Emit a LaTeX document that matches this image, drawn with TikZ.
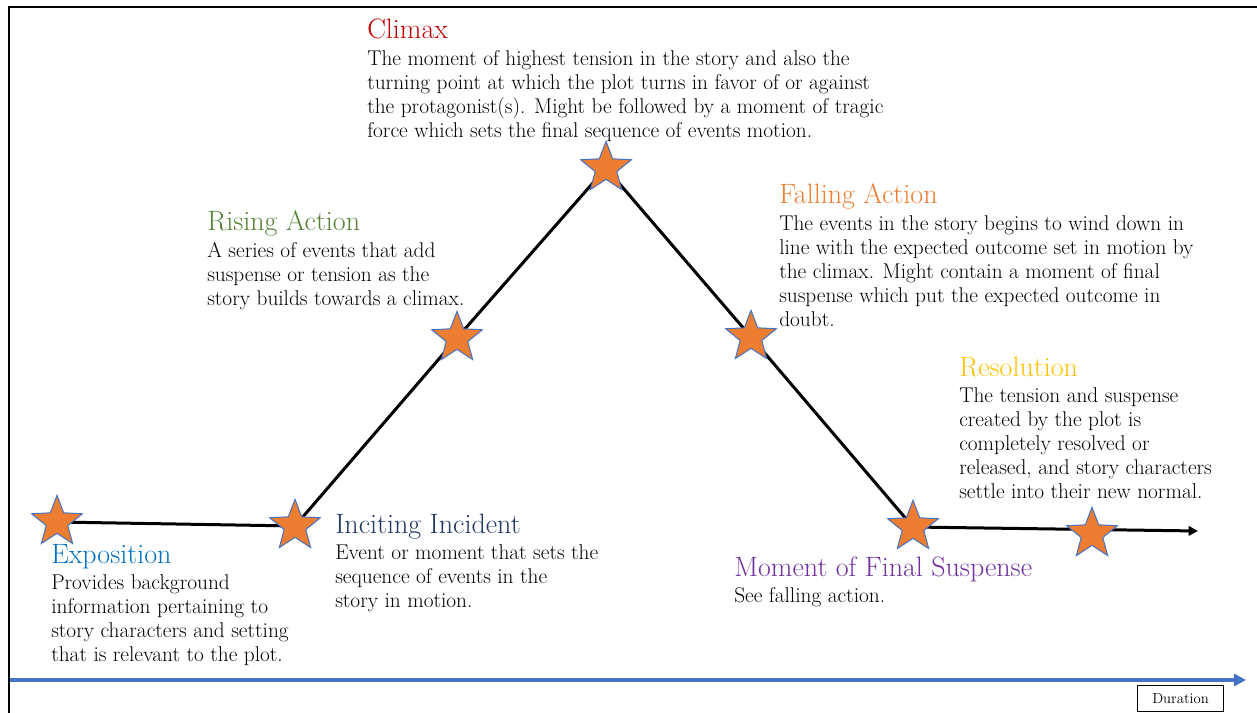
\documentclass[tikz,border=0pt]{standalone}
\usetikzlibrary{shapes.geometric, arrows.meta, positioning, backgrounds}
\definecolor{ArcOrange}{HTML}{ED7D31}
\definecolor{ArcEdge}{HTML}{4472C4}
\definecolor{ArcRed}{HTML}{C00000}
\definecolor{ArcGreen}{HTML}{538135}
\definecolor{ArcGold}{HTML}{FFC000}
\definecolor{ArcPurple}{HTML}{7030A0}
\definecolor{ArcBlue}{HTML}{0070C0}
\definecolor{ArcNavy}{HTML}{1F3864}

\begin{document}
\begin{tikzpicture}[x=0.75pt, y=-0.75pt, >=Stealth,
                plotstar/.style={star, star points=5, star point ratio=2.35, draw=ArcEdge, line width=0.75pt, fill=ArcOrange, minimum size=40pt, inner sep=0pt},
                head/.style={anchor=base west, inner sep=0pt, font=\fontsize{21}{25}\selectfont},
                body/.style={inner sep=0pt, align=left, text=black, font=\fontsize{16}{18}\selectfont},
                plotline/.style={line width=2.25pt, line join=round, -{Triangle[length=7pt, width=7pt]}},
                axis/.style={ArcEdge, line width=3pt, -{Triangle[length=9pt, width=9pt]}},
                durbox/.style={draw, line width=0.75pt, minimum width=64pt, minimum height=20pt, inner sep=0pt, font=\fontsize{11}{13}\selectfont}]
                \useasboundingbox (0,0) rectangle (1257,713);
                \draw[line width=1.5pt] (9,713) -- (9,7) -- (1257,7);

                \node[plotstar] (s1) at (57,522) {};
                \node[plotstar] (s2) at (295,526) {};
                \node[plotstar] (s3) at (457,338) {};
                \node[plotstar] (s4) at (606,168) {};
                \node[plotstar] (s5) at (751,337) {};
                \node[plotstar] (s6) at (913,527) {};
                \node[plotstar] (s7) at (1092,534) {};
                \coordinate (plotend) at (1198,531);

                \begin{scope}[on background layer]
                \draw[plotline] (s1.center) -- (s2.center) -- (s3.center) -- (s4.center) -- (s5.center) -- (s6.center) -- (plotend);
                \end{scope}

                \node[head, text=ArcRed] (h1) at (367,39) {Climax};
                \node[body, below right=8.5pt and 0pt of h1.base west] (b1) {The moment of highest tension in the story and also the\\turning point at which the plot turns in favor of or against\\the protagonist(s). Might be followed by a moment of tragic\\force which sets the final sequence of events motion.};
                \node[head, text=ArcGreen] (h2) at (207,231) {Rising Action};
                \node[body, below right=8.5pt and 0pt of h2.base west] (b2) {A series of events that add\\suspense or tension as the\\story builds towards a climax.};
                \node[head, text=ArcOrange] (h3) at (779,204) {Falling Action};
                \node[body, below right=8.5pt and 0pt of h3.base west] (b3) {The events in the story begins to wind down in\\line with the expected outcome set in motion by\\the climax. Might contain a moment of final\\suspense which put the expected outcome in\\doubt.};
                \node[head, text=ArcGold] (h4) at (959,376) {Resolution};
                \node[body, below right=8.5pt and 0pt of h4.base west] (b4) {The tension and suspense\\created by the plot is\\completely resolved or\\released, and story characters\\settle into their new normal.};
                \node[head, text=ArcBlue] (h5) at (51,563) {Exposition};
                \node[body, below right=8.5pt and 0pt of h5.base west] (b5) {Provides background\\information pertaining to\\story characters and setting\\that is relevant to the plot.};
                \node[head, text=ArcNavy] (h6) at (335,533) {Inciting Incident};
                \node[body, below right=8.5pt and 0pt of h6.base west] (b6) {Event or moment that sets the\\sequence of events in the\\story in motion.};
                \node[head, text=ArcPurple] (h7) at (734,576) {Moment of Final Suspense};
                \node[body, below right=8.5pt and 0pt of h7.base west] (b7) {See falling action.};

                \coordinate (axisstart) at (10,680);
                \coordinate (axisend) at (1246,680);
                \draw[axis] (axisstart) -- (axisend);
                \node[durbox] (dur) at (1180.5,698.5) {Duration};
            \end{tikzpicture}
\end{document}
